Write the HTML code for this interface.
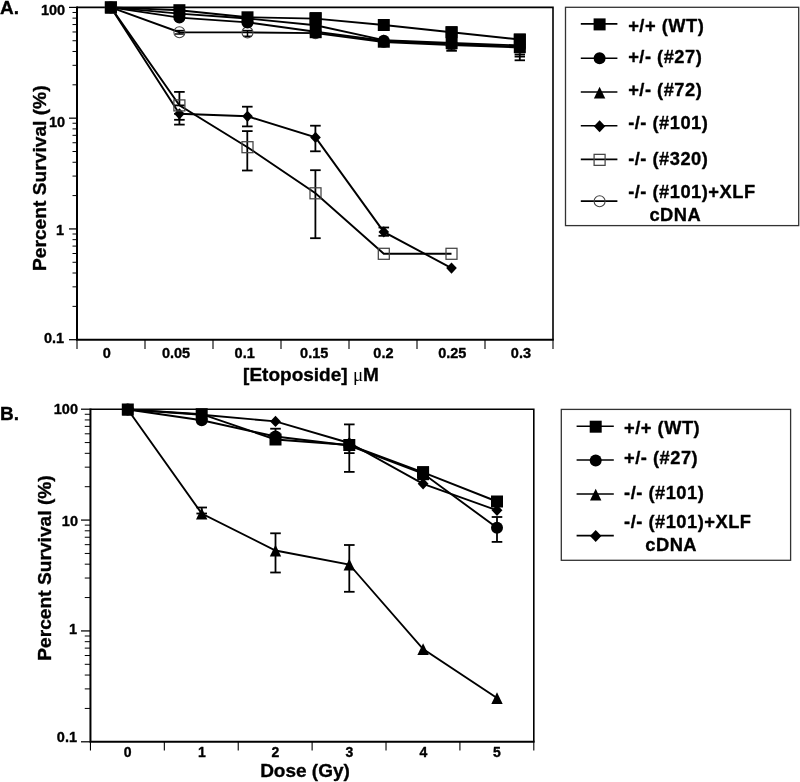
<!DOCTYPE html>
<html><head><meta charset="utf-8"><style>
html,body{margin:0;padding:0;background:#fff;width:800px;height:782px;overflow:hidden;}
body{position:relative;font-family:"Liberation Sans", sans-serif;}
</style></head><body>
<svg width="800" height="782" viewBox="0 0 800 782" style="position:absolute;left:0;top:0;will-change:transform" font-family='"Liberation Sans", sans-serif' font-weight="bold">
<rect width="800" height="782" fill="#fff"/>
<path d="M77,6.6000000000000005 L77,339.7 L553.8,339.7" fill="none" stroke="#000" stroke-width="2"/>
<path d="M77,7.4 L553,7.4 L553,339.7" fill="none" stroke="#000" stroke-width="1.6"/>
<line x1="69.00" y1="7.40" x2="77.00" y2="7.40" stroke="#000" stroke-width="1.25"/>
<line x1="69.00" y1="118.17" x2="77.00" y2="118.17" stroke="#000" stroke-width="1.25"/>
<line x1="69.00" y1="228.93" x2="77.00" y2="228.93" stroke="#000" stroke-width="1.25"/>
<line x1="69.00" y1="339.70" x2="77.00" y2="339.70" stroke="#000" stroke-width="1.25"/>
<line x1="72.50" y1="84.82" x2="77.00" y2="84.82" stroke="#000" stroke-width="1.0"/>
<line x1="72.50" y1="65.32" x2="77.00" y2="65.32" stroke="#000" stroke-width="1.0"/>
<line x1="72.50" y1="51.48" x2="77.00" y2="51.48" stroke="#000" stroke-width="1.0"/>
<line x1="72.50" y1="40.74" x2="77.00" y2="40.74" stroke="#000" stroke-width="1.0"/>
<line x1="72.50" y1="31.97" x2="77.00" y2="31.97" stroke="#000" stroke-width="1.0"/>
<line x1="72.50" y1="24.56" x2="77.00" y2="24.56" stroke="#000" stroke-width="1.0"/>
<line x1="72.50" y1="18.13" x2="77.00" y2="18.13" stroke="#000" stroke-width="1.0"/>
<line x1="72.50" y1="12.47" x2="77.00" y2="12.47" stroke="#000" stroke-width="1.0"/>
<line x1="72.50" y1="195.59" x2="77.00" y2="195.59" stroke="#000" stroke-width="1.0"/>
<line x1="72.50" y1="176.08" x2="77.00" y2="176.08" stroke="#000" stroke-width="1.0"/>
<line x1="72.50" y1="162.25" x2="77.00" y2="162.25" stroke="#000" stroke-width="1.0"/>
<line x1="72.50" y1="151.51" x2="77.00" y2="151.51" stroke="#000" stroke-width="1.0"/>
<line x1="72.50" y1="142.74" x2="77.00" y2="142.74" stroke="#000" stroke-width="1.0"/>
<line x1="72.50" y1="135.32" x2="77.00" y2="135.32" stroke="#000" stroke-width="1.0"/>
<line x1="72.50" y1="128.90" x2="77.00" y2="128.90" stroke="#000" stroke-width="1.0"/>
<line x1="72.50" y1="123.24" x2="77.00" y2="123.24" stroke="#000" stroke-width="1.0"/>
<line x1="72.50" y1="306.36" x2="77.00" y2="306.36" stroke="#000" stroke-width="1.0"/>
<line x1="72.50" y1="286.85" x2="77.00" y2="286.85" stroke="#000" stroke-width="1.0"/>
<line x1="72.50" y1="273.01" x2="77.00" y2="273.01" stroke="#000" stroke-width="1.0"/>
<line x1="72.50" y1="262.28" x2="77.00" y2="262.28" stroke="#000" stroke-width="1.0"/>
<line x1="72.50" y1="253.51" x2="77.00" y2="253.51" stroke="#000" stroke-width="1.0"/>
<line x1="72.50" y1="246.09" x2="77.00" y2="246.09" stroke="#000" stroke-width="1.0"/>
<line x1="72.50" y1="239.67" x2="77.00" y2="239.67" stroke="#000" stroke-width="1.0"/>
<line x1="72.50" y1="234.00" x2="77.00" y2="234.00" stroke="#000" stroke-width="1.0"/>
<line x1="77.00" y1="339.70" x2="77.00" y2="349.00" stroke="#000" stroke-width="1.1"/>
<line x1="145.00" y1="339.70" x2="145.00" y2="349.00" stroke="#000" stroke-width="1.1"/>
<line x1="213.00" y1="339.70" x2="213.00" y2="349.00" stroke="#000" stroke-width="1.1"/>
<line x1="281.00" y1="339.70" x2="281.00" y2="349.00" stroke="#000" stroke-width="1.1"/>
<line x1="349.00" y1="339.70" x2="349.00" y2="349.00" stroke="#000" stroke-width="1.1"/>
<line x1="417.00" y1="339.70" x2="417.00" y2="349.00" stroke="#000" stroke-width="1.1"/>
<line x1="485.00" y1="339.70" x2="485.00" y2="349.00" stroke="#000" stroke-width="1.1"/>
<line x1="553.00" y1="339.70" x2="553.00" y2="349.00" stroke="#000" stroke-width="1.1"/>
<text x="0.00" y="13.60" font-size="19" text-anchor="start" stroke="#000" stroke-width="0.35" stroke-linejoin="round" >A.</text>
<text x="65.20" y="14.70" font-size="14.5" text-anchor="end" stroke="#000" stroke-width="0.35" stroke-linejoin="round" >100</text>
<text x="65.20" y="126.50" font-size="14.5" text-anchor="end" stroke="#000" stroke-width="0.35" stroke-linejoin="round" >10</text>
<text x="64.20" y="234.70" font-size="14.5" text-anchor="end" stroke="#000" stroke-width="0.35" stroke-linejoin="round" >1</text>
<text x="64.20" y="343.20" font-size="14.5" text-anchor="end" stroke="#000" stroke-width="0.35" stroke-linejoin="round" >0.1</text>
<text x="106.70" y="357.60" font-size="14.5" text-anchor="middle" stroke="#000" stroke-width="0.35" stroke-linejoin="round" >0</text>
<text x="176.00" y="357.60" font-size="14.5" text-anchor="middle" stroke="#000" stroke-width="0.35" stroke-linejoin="round" >0.05</text>
<text x="244.70" y="357.60" font-size="14.5" text-anchor="middle" stroke="#000" stroke-width="0.35" stroke-linejoin="round" >0.1</text>
<text x="314.20" y="357.60" font-size="14.5" text-anchor="middle" stroke="#000" stroke-width="0.35" stroke-linejoin="round" >0.15</text>
<text x="383.40" y="357.60" font-size="14.5" text-anchor="middle" stroke="#000" stroke-width="0.35" stroke-linejoin="round" >0.2</text>
<text x="452.25" y="357.60" font-size="14.5" text-anchor="middle" stroke="#000" stroke-width="0.35" stroke-linejoin="round" >0.25</text>
<text x="520.90" y="357.60" font-size="14.5" text-anchor="middle" stroke="#000" stroke-width="0.35" stroke-linejoin="round" >0.3</text>
<text x="311.00" y="381.00" font-size="19" text-anchor="middle" stroke="#000" stroke-width="0.35" stroke-linejoin="round" >[Etoposide] <tspan font-family='"Liberation Serif", serif' font-weight="normal" stroke-width="0">μ</tspan>M</text>
<text transform="translate(46.3,271) rotate(-90)" font-size="19.2" x="0" y="0" stroke="#000" stroke-width="0.35" stroke-linejoin="round">Percent Survival (%)</text>
<line x1="179.40" y1="91.90" x2="179.40" y2="105.40" stroke="#000" stroke-width="1.8"/>
<line x1="174.10" y1="91.90" x2="184.70" y2="91.90" stroke="#000" stroke-width="1.8"/>
<line x1="174.10" y1="105.40" x2="184.70" y2="105.40" stroke="#000" stroke-width="1.8"/>
<line x1="179.40" y1="113.80" x2="179.40" y2="119.80" stroke="#000" stroke-width="1.8"/>
<line x1="174.10" y1="113.80" x2="184.70" y2="113.80" stroke="#000" stroke-width="1.8"/>
<line x1="174.10" y1="119.80" x2="184.70" y2="119.80" stroke="#000" stroke-width="1.8"/>
<line x1="174.10" y1="124.60" x2="184.70" y2="124.60" stroke="#000" stroke-width="1.8"/>
<line x1="179.40" y1="113.80" x2="179.40" y2="124.60" stroke="#000" stroke-width="1.8"/>
<line x1="247.30" y1="106.70" x2="247.30" y2="126.40" stroke="#000" stroke-width="1.8"/>
<line x1="242.00" y1="106.70" x2="252.60" y2="106.70" stroke="#000" stroke-width="1.8"/>
<line x1="242.00" y1="126.40" x2="252.60" y2="126.40" stroke="#000" stroke-width="1.8"/>
<line x1="247.30" y1="131.10" x2="247.30" y2="170.50" stroke="#000" stroke-width="1.8"/>
<line x1="242.00" y1="131.10" x2="252.60" y2="131.10" stroke="#000" stroke-width="1.8"/>
<line x1="242.00" y1="170.50" x2="252.60" y2="170.50" stroke="#000" stroke-width="1.8"/>
<line x1="315.40" y1="125.70" x2="315.40" y2="151.30" stroke="#000" stroke-width="1.8"/>
<line x1="310.10" y1="125.70" x2="320.70" y2="125.70" stroke="#000" stroke-width="1.8"/>
<line x1="310.10" y1="151.30" x2="320.70" y2="151.30" stroke="#000" stroke-width="1.8"/>
<line x1="315.40" y1="170.20" x2="315.40" y2="238.20" stroke="#000" stroke-width="1.8"/>
<line x1="310.10" y1="170.20" x2="320.70" y2="170.20" stroke="#000" stroke-width="1.8"/>
<line x1="310.10" y1="238.20" x2="320.70" y2="238.20" stroke="#000" stroke-width="1.8"/>
<line x1="383.80" y1="227.50" x2="383.80" y2="235.80" stroke="#000" stroke-width="1.8"/>
<line x1="378.50" y1="227.50" x2="389.10" y2="227.50" stroke="#000" stroke-width="1.8"/>
<line x1="378.50" y1="235.80" x2="389.10" y2="235.80" stroke="#000" stroke-width="1.8"/>
<line x1="179.40" y1="30.60" x2="179.40" y2="34.00" stroke="#000" stroke-width="1.5"/>
<line x1="174.90" y1="30.60" x2="183.90" y2="30.60" stroke="#000" stroke-width="1.5"/>
<line x1="174.90" y1="34.00" x2="183.90" y2="34.00" stroke="#000" stroke-width="1.5"/>
<line x1="247.50" y1="30.60" x2="247.50" y2="36.30" stroke="#000" stroke-width="1.5"/>
<line x1="243.00" y1="30.60" x2="252.00" y2="30.60" stroke="#000" stroke-width="1.5"/>
<line x1="243.00" y1="36.30" x2="252.00" y2="36.30" stroke="#000" stroke-width="1.5"/>
<line x1="519.80" y1="47.00" x2="519.80" y2="60.30" stroke="#000" stroke-width="1.8"/>
<line x1="514.60" y1="47.00" x2="525.00" y2="47.00" stroke="#000" stroke-width="1.8"/>
<line x1="514.60" y1="60.30" x2="525.00" y2="60.30" stroke="#000" stroke-width="1.8"/>
<line x1="514.60" y1="54.50" x2="525.00" y2="54.50" stroke="#000" stroke-width="1.8"/>
<line x1="514.60" y1="56.60" x2="525.00" y2="56.60" stroke="#000" stroke-width="1.8"/>
<polyline points="110.90,7.40 179.40,32.20 247.50,32.40 315.50,33.10 383.80,42.00 451.50,45.00 519.80,47.50" fill="none" stroke="#000" stroke-width="1.9" stroke-linejoin="miter"/>
<polyline points="110.90,7.40 179.40,17.60 247.50,22.40 315.50,31.80 383.80,40.80 451.50,44.00 519.80,46.80" fill="none" stroke="#000" stroke-width="1.9" stroke-linejoin="miter"/>
<polyline points="110.90,7.40 179.40,13.60 247.50,18.50 315.50,25.20 383.80,40.10 451.50,43.00 519.80,45.50" fill="none" stroke="#000" stroke-width="1.9" stroke-linejoin="miter"/>
<polyline points="110.90,7.40 179.40,10.20 247.50,17.30 315.50,18.60 383.80,25.00 451.50,32.20 519.80,39.50" fill="none" stroke="#000" stroke-width="1.9" stroke-linejoin="miter"/>
<polyline points="110.90,7.40 179.40,105.40 247.50,147.20 315.50,193.30 383.80,253.80 451.50,253.80" fill="none" stroke="#000" stroke-width="1.9" stroke-linejoin="miter"/>
<polyline points="110.90,7.40 179.40,113.80 247.50,116.30 315.50,137.40 383.80,231.90 451.50,268.10" fill="none" stroke="#000" stroke-width="1.9" stroke-linejoin="miter"/>
<circle cx="110.90" cy="7.40" r="5.50" fill="none" stroke="#444" stroke-width="1.1"/>
<circle cx="179.40" cy="32.20" r="5.50" fill="none" stroke="#444" stroke-width="1.1"/>
<circle cx="247.50" cy="32.40" r="5.50" fill="none" stroke="#444" stroke-width="1.1"/>
<circle cx="315.50" cy="33.10" r="5.50" fill="none" stroke="#444" stroke-width="1.1"/>
<circle cx="383.80" cy="42.00" r="5.50" fill="none" stroke="#444" stroke-width="1.1"/>
<circle cx="451.50" cy="45.00" r="5.50" fill="none" stroke="#444" stroke-width="1.1"/>
<circle cx="519.80" cy="47.50" r="5.50" fill="none" stroke="#444" stroke-width="1.1"/>
<circle cx="110.90" cy="7.40" r="6.00" fill="#000"/>
<circle cx="179.40" cy="17.60" r="6.00" fill="#000"/>
<circle cx="247.50" cy="22.40" r="6.00" fill="#000"/>
<circle cx="315.50" cy="31.80" r="6.00" fill="#000"/>
<circle cx="383.80" cy="40.80" r="6.00" fill="#000"/>
<circle cx="451.50" cy="44.00" r="6.00" fill="#000"/>
<circle cx="519.80" cy="46.80" r="6.00" fill="#000"/>
<polygon points="110.90,1.70 116.60,13.40 105.20,13.40" fill="#000"/>
<polygon points="179.40,7.90 185.10,19.60 173.70,19.60" fill="#000"/>
<polygon points="247.50,12.80 253.20,24.50 241.80,24.50" fill="#000"/>
<polygon points="315.50,19.50 321.20,31.20 309.80,31.20" fill="#000"/>
<polygon points="383.80,34.40 389.50,46.10 378.10,46.10" fill="#000"/>
<polygon points="451.50,37.30 457.20,49.00 445.80,49.00" fill="#000"/>
<polygon points="519.80,39.80 525.50,51.50 514.10,51.50" fill="#000"/>
<polygon points="110.90,1.80 116.22,7.40 110.90,13.00 105.58,7.40" fill="#000"/>
<polygon points="179.40,108.20 184.72,113.80 179.40,119.40 174.08,113.80" fill="#000"/>
<polygon points="247.50,110.70 252.82,116.30 247.50,121.90 242.18,116.30" fill="#000"/>
<polygon points="315.50,131.80 320.82,137.40 315.50,143.00 310.18,137.40" fill="#000"/>
<polygon points="383.80,226.30 389.12,231.90 383.80,237.50 378.48,231.90" fill="#000"/>
<polygon points="451.50,262.50 456.82,268.10 451.50,273.70 446.18,268.10" fill="#000"/>
<rect x="105.40" y="1.90" width="11.00" height="11.00" fill="none" stroke="#444" stroke-width="1.25"/>
<rect x="173.90" y="99.90" width="11.00" height="11.00" fill="none" stroke="#444" stroke-width="1.25"/>
<rect x="242.00" y="141.70" width="11.00" height="11.00" fill="none" stroke="#444" stroke-width="1.25"/>
<rect x="310.00" y="187.80" width="11.00" height="11.00" fill="none" stroke="#444" stroke-width="1.25"/>
<rect x="378.30" y="248.30" width="11.00" height="11.00" fill="none" stroke="#444" stroke-width="1.25"/>
<rect x="446.00" y="248.30" width="11.00" height="11.00" fill="none" stroke="#444" stroke-width="1.25"/>
<rect x="104.90" y="1.40" width="12.00" height="12.00" fill="#000"/>
<rect x="173.40" y="4.20" width="12.00" height="12.00" fill="#000"/>
<rect x="241.50" y="11.30" width="12.00" height="12.00" fill="#000"/>
<rect x="309.50" y="12.60" width="12.00" height="12.00" fill="#000"/>
<rect x="377.80" y="19.00" width="12.00" height="12.00" fill="#000"/>
<rect x="445.50" y="26.20" width="12.00" height="12.00" fill="#000"/>
<rect x="513.80" y="33.50" width="12.00" height="12.00" fill="#000"/>
<rect x="309.7" y="12.1" width="12.00" height="26.10" fill="#000"/>
<rect x="377.8" y="40.0" width="12.00" height="7.70" fill="#000"/>
<rect x="445.7" y="26.4" width="11.90" height="22.80" fill="#000"/>
<line x1="446.30" y1="50.70" x2="456.90" y2="50.70" stroke="#000" stroke-width="2.0"/>
<rect x="513.8" y="33.7" width="12.00" height="19.50" fill="#000"/>
<rect x="565.5" y="7.3" width="233.2" height="218.3" fill="none" stroke="#333" stroke-width="1.3"/>
<line x1="580.80" y1="23.90" x2="617.40" y2="23.90" stroke="#000" stroke-width="1.6"/>
<rect x="593.60" y="18.40" width="12.00" height="12.00" fill="#000"/>
<line x1="580.80" y1="58.20" x2="617.40" y2="58.20" stroke="#000" stroke-width="1.6"/>
<circle cx="599.60" cy="58.20" r="6.00" fill="#000"/>
<line x1="580.80" y1="92.00" x2="617.40" y2="92.00" stroke="#000" stroke-width="1.6"/>
<polygon points="599.60,86.70 605.30,98.40 593.90,98.40" fill="#000"/>
<line x1="580.80" y1="125.70" x2="617.40" y2="125.70" stroke="#000" stroke-width="1.6"/>
<polygon points="599.60,120.20 605.30,126.20 599.60,132.20 593.90,126.20" fill="#000"/>
<line x1="580.80" y1="159.40" x2="617.40" y2="159.40" stroke="#000" stroke-width="1.6"/>
<rect x="594.10" y="154.35" width="11.00" height="11.00" fill="none" stroke="#444" stroke-width="1.25"/>
<line x1="580.80" y1="201.10" x2="617.40" y2="201.10" stroke="#000" stroke-width="1.6"/>
<circle cx="599.60" cy="201.30" r="5.50" fill="none" stroke="#444" stroke-width="1.1"/>
<text x="628.20" y="31.50" font-size="18.3" text-anchor="start" stroke="#000" stroke-width="0.35" stroke-linejoin="round" letter-spacing="0.5">+/+ (WT)</text>
<text x="628.20" y="62.50" font-size="18.3" text-anchor="start" stroke="#000" stroke-width="0.35" stroke-linejoin="round" letter-spacing="0.5">+/- (#27)</text>
<text x="628.20" y="96.00" font-size="18.3" text-anchor="start" stroke="#000" stroke-width="0.35" stroke-linejoin="round" letter-spacing="0.5">+/- (#72)</text>
<text x="628.20" y="128.50" font-size="18.3" text-anchor="start" stroke="#000" stroke-width="0.35" stroke-linejoin="round" letter-spacing="0.5">-/- (#101)</text>
<text x="628.20" y="164.50" font-size="18.3" text-anchor="start" stroke="#000" stroke-width="0.35" stroke-linejoin="round" letter-spacing="0.5">-/- (#320)</text>
<text x="628.20" y="197.75" font-size="18.3" text-anchor="start" stroke="#000" stroke-width="0.35" stroke-linejoin="round" letter-spacing="0.5">-/- (#101)+XLF</text>
<text x="649.40" y="220.90" font-size="18.3" text-anchor="start" stroke="#000" stroke-width="0.35" stroke-linejoin="round" letter-spacing="0.5">cDNA</text>
<path d="M90.45,408.4 L90.45,741.8 L534.5999999999999,741.8" fill="none" stroke="#000" stroke-width="2"/>
<path d="M90.45,409.2 L533.8,409.2 L533.8,741.8" fill="none" stroke="#000" stroke-width="1.6"/>
<line x1="81.00" y1="409.20" x2="90.45" y2="409.20" stroke="#000" stroke-width="1.25"/>
<line x1="81.00" y1="520.07" x2="90.45" y2="520.07" stroke="#000" stroke-width="1.25"/>
<line x1="81.00" y1="630.93" x2="90.45" y2="630.93" stroke="#000" stroke-width="1.25"/>
<line x1="81.00" y1="741.80" x2="90.45" y2="741.80" stroke="#000" stroke-width="1.25"/>
<line x1="84.75" y1="486.69" x2="90.45" y2="486.69" stroke="#000" stroke-width="1.0"/>
<line x1="84.75" y1="467.17" x2="90.45" y2="467.17" stroke="#000" stroke-width="1.0"/>
<line x1="84.75" y1="453.32" x2="90.45" y2="453.32" stroke="#000" stroke-width="1.0"/>
<line x1="84.75" y1="442.57" x2="90.45" y2="442.57" stroke="#000" stroke-width="1.0"/>
<line x1="84.75" y1="433.80" x2="90.45" y2="433.80" stroke="#000" stroke-width="1.0"/>
<line x1="84.75" y1="426.37" x2="90.45" y2="426.37" stroke="#000" stroke-width="1.0"/>
<line x1="84.75" y1="419.94" x2="90.45" y2="419.94" stroke="#000" stroke-width="1.0"/>
<line x1="84.75" y1="414.27" x2="90.45" y2="414.27" stroke="#000" stroke-width="1.0"/>
<line x1="84.75" y1="597.56" x2="90.45" y2="597.56" stroke="#000" stroke-width="1.0"/>
<line x1="84.75" y1="578.04" x2="90.45" y2="578.04" stroke="#000" stroke-width="1.0"/>
<line x1="84.75" y1="564.18" x2="90.45" y2="564.18" stroke="#000" stroke-width="1.0"/>
<line x1="84.75" y1="553.44" x2="90.45" y2="553.44" stroke="#000" stroke-width="1.0"/>
<line x1="84.75" y1="544.66" x2="90.45" y2="544.66" stroke="#000" stroke-width="1.0"/>
<line x1="84.75" y1="537.24" x2="90.45" y2="537.24" stroke="#000" stroke-width="1.0"/>
<line x1="84.75" y1="530.81" x2="90.45" y2="530.81" stroke="#000" stroke-width="1.0"/>
<line x1="84.75" y1="525.14" x2="90.45" y2="525.14" stroke="#000" stroke-width="1.0"/>
<line x1="84.75" y1="708.43" x2="90.45" y2="708.43" stroke="#000" stroke-width="1.0"/>
<line x1="84.75" y1="688.90" x2="90.45" y2="688.90" stroke="#000" stroke-width="1.0"/>
<line x1="84.75" y1="675.05" x2="90.45" y2="675.05" stroke="#000" stroke-width="1.0"/>
<line x1="84.75" y1="664.31" x2="90.45" y2="664.31" stroke="#000" stroke-width="1.0"/>
<line x1="84.75" y1="655.53" x2="90.45" y2="655.53" stroke="#000" stroke-width="1.0"/>
<line x1="84.75" y1="648.11" x2="90.45" y2="648.11" stroke="#000" stroke-width="1.0"/>
<line x1="84.75" y1="641.68" x2="90.45" y2="641.68" stroke="#000" stroke-width="1.0"/>
<line x1="84.75" y1="636.01" x2="90.45" y2="636.01" stroke="#000" stroke-width="1.0"/>
<line x1="90.45" y1="741.80" x2="90.45" y2="750.50" stroke="#000" stroke-width="1.1"/>
<line x1="164.34" y1="741.80" x2="164.34" y2="750.50" stroke="#000" stroke-width="1.1"/>
<line x1="238.23" y1="741.80" x2="238.23" y2="750.50" stroke="#000" stroke-width="1.1"/>
<line x1="312.12" y1="741.80" x2="312.12" y2="750.50" stroke="#000" stroke-width="1.1"/>
<line x1="386.02" y1="741.80" x2="386.02" y2="750.50" stroke="#000" stroke-width="1.1"/>
<line x1="459.91" y1="741.80" x2="459.91" y2="750.50" stroke="#000" stroke-width="1.1"/>
<line x1="533.80" y1="741.80" x2="533.80" y2="750.50" stroke="#000" stroke-width="1.1"/>
<text x="0.00" y="420.00" font-size="19" text-anchor="start" stroke="#000" stroke-width="0.35" stroke-linejoin="round" >B.</text>
<text x="78.00" y="413.70" font-size="14.5" text-anchor="end" stroke="#000" stroke-width="0.35" stroke-linejoin="round" >100</text>
<text x="78.00" y="525.90" font-size="14.5" text-anchor="end" stroke="#000" stroke-width="0.35" stroke-linejoin="round" >10</text>
<text x="77.00" y="634.30" font-size="14.5" text-anchor="end" stroke="#000" stroke-width="0.35" stroke-linejoin="round" >1</text>
<text x="77.00" y="742.20" font-size="14.5" text-anchor="end" stroke="#000" stroke-width="0.35" stroke-linejoin="round" >0.1</text>
<text x="127.60" y="757.30" font-size="14" text-anchor="middle" stroke="#000" stroke-width="0.35" stroke-linejoin="round" >0</text>
<text x="201.90" y="757.30" font-size="14" text-anchor="middle" stroke="#000" stroke-width="0.35" stroke-linejoin="round" >1</text>
<text x="275.30" y="757.30" font-size="14" text-anchor="middle" stroke="#000" stroke-width="0.35" stroke-linejoin="round" >2</text>
<text x="349.40" y="757.30" font-size="14" text-anchor="middle" stroke="#000" stroke-width="0.35" stroke-linejoin="round" >3</text>
<text x="423.40" y="757.30" font-size="14" text-anchor="middle" stroke="#000" stroke-width="0.35" stroke-linejoin="round" >4</text>
<text x="496.90" y="757.30" font-size="14" text-anchor="middle" stroke="#000" stroke-width="0.35" stroke-linejoin="round" >5</text>
<text x="305.00" y="777.10" font-size="19" text-anchor="middle" stroke="#000" stroke-width="0.35" stroke-linejoin="round" >Dose (Gy)</text>
<text transform="translate(50.9,660.8) rotate(-90)" font-size="19.2" x="0" y="0" stroke="#000" stroke-width="0.35" stroke-linejoin="round">Percent Survival (%)</text>
<line x1="201.70" y1="507.50" x2="201.70" y2="513.50" stroke="#000" stroke-width="1.8"/>
<line x1="196.40" y1="507.50" x2="207.00" y2="507.50" stroke="#000" stroke-width="1.8"/>
<line x1="196.40" y1="513.50" x2="207.00" y2="513.50" stroke="#000" stroke-width="1.8"/>
<line x1="275.50" y1="533.30" x2="275.50" y2="572.50" stroke="#000" stroke-width="1.8"/>
<line x1="270.20" y1="533.30" x2="280.80" y2="533.30" stroke="#000" stroke-width="1.8"/>
<line x1="270.20" y1="572.50" x2="280.80" y2="572.50" stroke="#000" stroke-width="1.8"/>
<line x1="349.30" y1="545.00" x2="349.30" y2="591.80" stroke="#000" stroke-width="1.8"/>
<line x1="344.00" y1="545.00" x2="354.60" y2="545.00" stroke="#000" stroke-width="1.8"/>
<line x1="344.00" y1="591.80" x2="354.60" y2="591.80" stroke="#000" stroke-width="1.8"/>
<line x1="275.50" y1="428.70" x2="275.50" y2="437.00" stroke="#000" stroke-width="1.8"/>
<line x1="270.20" y1="428.70" x2="280.80" y2="428.70" stroke="#000" stroke-width="1.8"/>
<line x1="270.20" y1="437.00" x2="280.80" y2="437.00" stroke="#000" stroke-width="1.8"/>
<line x1="349.30" y1="424.40" x2="349.30" y2="471.90" stroke="#000" stroke-width="1.8"/>
<line x1="344.00" y1="424.40" x2="354.60" y2="424.40" stroke="#000" stroke-width="1.8"/>
<line x1="344.00" y1="471.90" x2="354.60" y2="471.90" stroke="#000" stroke-width="1.8"/>
<line x1="344.00" y1="453.10" x2="354.60" y2="453.10" stroke="#000" stroke-width="1.8"/>
<line x1="497.00" y1="517.00" x2="497.00" y2="541.90" stroke="#000" stroke-width="1.8"/>
<line x1="491.70" y1="517.00" x2="502.30" y2="517.00" stroke="#000" stroke-width="1.8"/>
<line x1="491.70" y1="541.90" x2="502.30" y2="541.90" stroke="#000" stroke-width="1.8"/>
<polyline points="127.80,409.50 201.70,513.50 275.50,550.50 349.30,564.50 423.10,649.00 497.00,698.00" fill="none" stroke="#000" stroke-width="1.9" stroke-linejoin="miter"/>
<polyline points="127.80,409.50 201.70,420.30 275.50,436.50 349.30,445.50 423.10,473.50 497.00,527.80" fill="none" stroke="#000" stroke-width="1.9" stroke-linejoin="miter"/>
<polyline points="127.80,409.50 201.70,414.20 275.50,439.50 349.30,445.00 423.10,472.30 497.00,501.50" fill="none" stroke="#000" stroke-width="1.9" stroke-linejoin="miter"/>
<polyline points="127.80,409.50 201.70,414.70 275.50,421.40 349.30,443.00 423.10,483.80 497.00,510.30" fill="none" stroke="#000" stroke-width="1.9" stroke-linejoin="miter"/>
<polygon points="127.80,403.80 133.50,415.50 122.10,415.50" fill="#000"/>
<polygon points="201.70,507.80 207.40,519.50 196.00,519.50" fill="#000"/>
<polygon points="275.50,544.80 281.20,556.50 269.80,556.50" fill="#000"/>
<polygon points="349.30,558.80 355.00,570.50 343.60,570.50" fill="#000"/>
<polygon points="423.10,643.30 428.80,655.00 417.40,655.00" fill="#000"/>
<polygon points="497.00,692.30 502.70,704.00 491.30,704.00" fill="#000"/>
<circle cx="127.80" cy="409.50" r="6.00" fill="#000"/>
<circle cx="201.70" cy="420.30" r="6.00" fill="#000"/>
<circle cx="275.50" cy="436.50" r="6.00" fill="#000"/>
<circle cx="349.30" cy="445.50" r="6.00" fill="#000"/>
<circle cx="423.10" cy="473.50" r="6.00" fill="#000"/>
<circle cx="497.00" cy="527.80" r="6.00" fill="#000"/>
<polygon points="127.80,403.80 133.22,409.50 127.80,415.20 122.38,409.50" fill="#000"/>
<polygon points="201.70,409.00 207.11,414.70 201.70,420.40 196.28,414.70" fill="#000"/>
<polygon points="275.50,415.70 280.92,421.40 275.50,427.10 270.08,421.40" fill="#000"/>
<polygon points="349.30,437.30 354.72,443.00 349.30,448.70 343.88,443.00" fill="#000"/>
<polygon points="423.10,478.10 428.52,483.80 423.10,489.50 417.69,483.80" fill="#000"/>
<polygon points="497.00,504.60 502.42,510.30 497.00,516.00 491.58,510.30" fill="#000"/>
<rect x="121.80" y="403.50" width="12.00" height="12.00" fill="#000"/>
<rect x="195.70" y="408.20" width="12.00" height="12.00" fill="#000"/>
<rect x="269.50" y="433.50" width="12.00" height="12.00" fill="#000"/>
<rect x="343.30" y="439.00" width="12.00" height="12.00" fill="#000"/>
<rect x="417.10" y="466.30" width="12.00" height="12.00" fill="#000"/>
<rect x="491.00" y="495.50" width="12.00" height="12.00" fill="#000"/>
<rect x="417.2" y="466.3" width="11.80" height="13.90" fill="#000"/>
<rect x="561.3" y="409.4" width="229.3" height="150.9" fill="none" stroke="#333" stroke-width="1.3"/>
<line x1="576.60" y1="426.30" x2="613.80" y2="426.30" stroke="#000" stroke-width="1.6"/>
<rect x="589.70" y="420.70" width="12.00" height="12.00" fill="#000"/>
<line x1="576.60" y1="460.00" x2="613.80" y2="460.00" stroke="#000" stroke-width="1.6"/>
<circle cx="595.70" cy="460.40" r="6.00" fill="#000"/>
<line x1="576.60" y1="494.00" x2="613.80" y2="494.00" stroke="#000" stroke-width="1.6"/>
<polygon points="595.70,488.70 601.40,500.40 590.00,500.40" fill="#000"/>
<line x1="576.60" y1="535.60" x2="613.80" y2="535.60" stroke="#000" stroke-width="1.6"/>
<polygon points="595.70,530.00 601.40,536.00 595.70,542.00 590.00,536.00" fill="#000"/>
<text x="624.10" y="433.60" font-size="18.3" text-anchor="start" stroke="#000" stroke-width="0.35" stroke-linejoin="round" letter-spacing="0.5">+/+ (WT)</text>
<text x="624.10" y="464.25" font-size="18.3" text-anchor="start" stroke="#000" stroke-width="0.35" stroke-linejoin="round" letter-spacing="0.5">+/- (#27)</text>
<text x="624.10" y="498.60" font-size="18.3" text-anchor="start" stroke="#000" stroke-width="0.35" stroke-linejoin="round" letter-spacing="0.5">-/- (#101)</text>
<text x="624.10" y="527.50" font-size="18.3" text-anchor="start" stroke="#000" stroke-width="0.35" stroke-linejoin="round" letter-spacing="0.5">-/- (#101)+XLF</text>
<text x="645.30" y="551.10" font-size="18.3" text-anchor="start" stroke="#000" stroke-width="0.35" stroke-linejoin="round" letter-spacing="0.5">cDNA</text>
</svg>
</body></html>
